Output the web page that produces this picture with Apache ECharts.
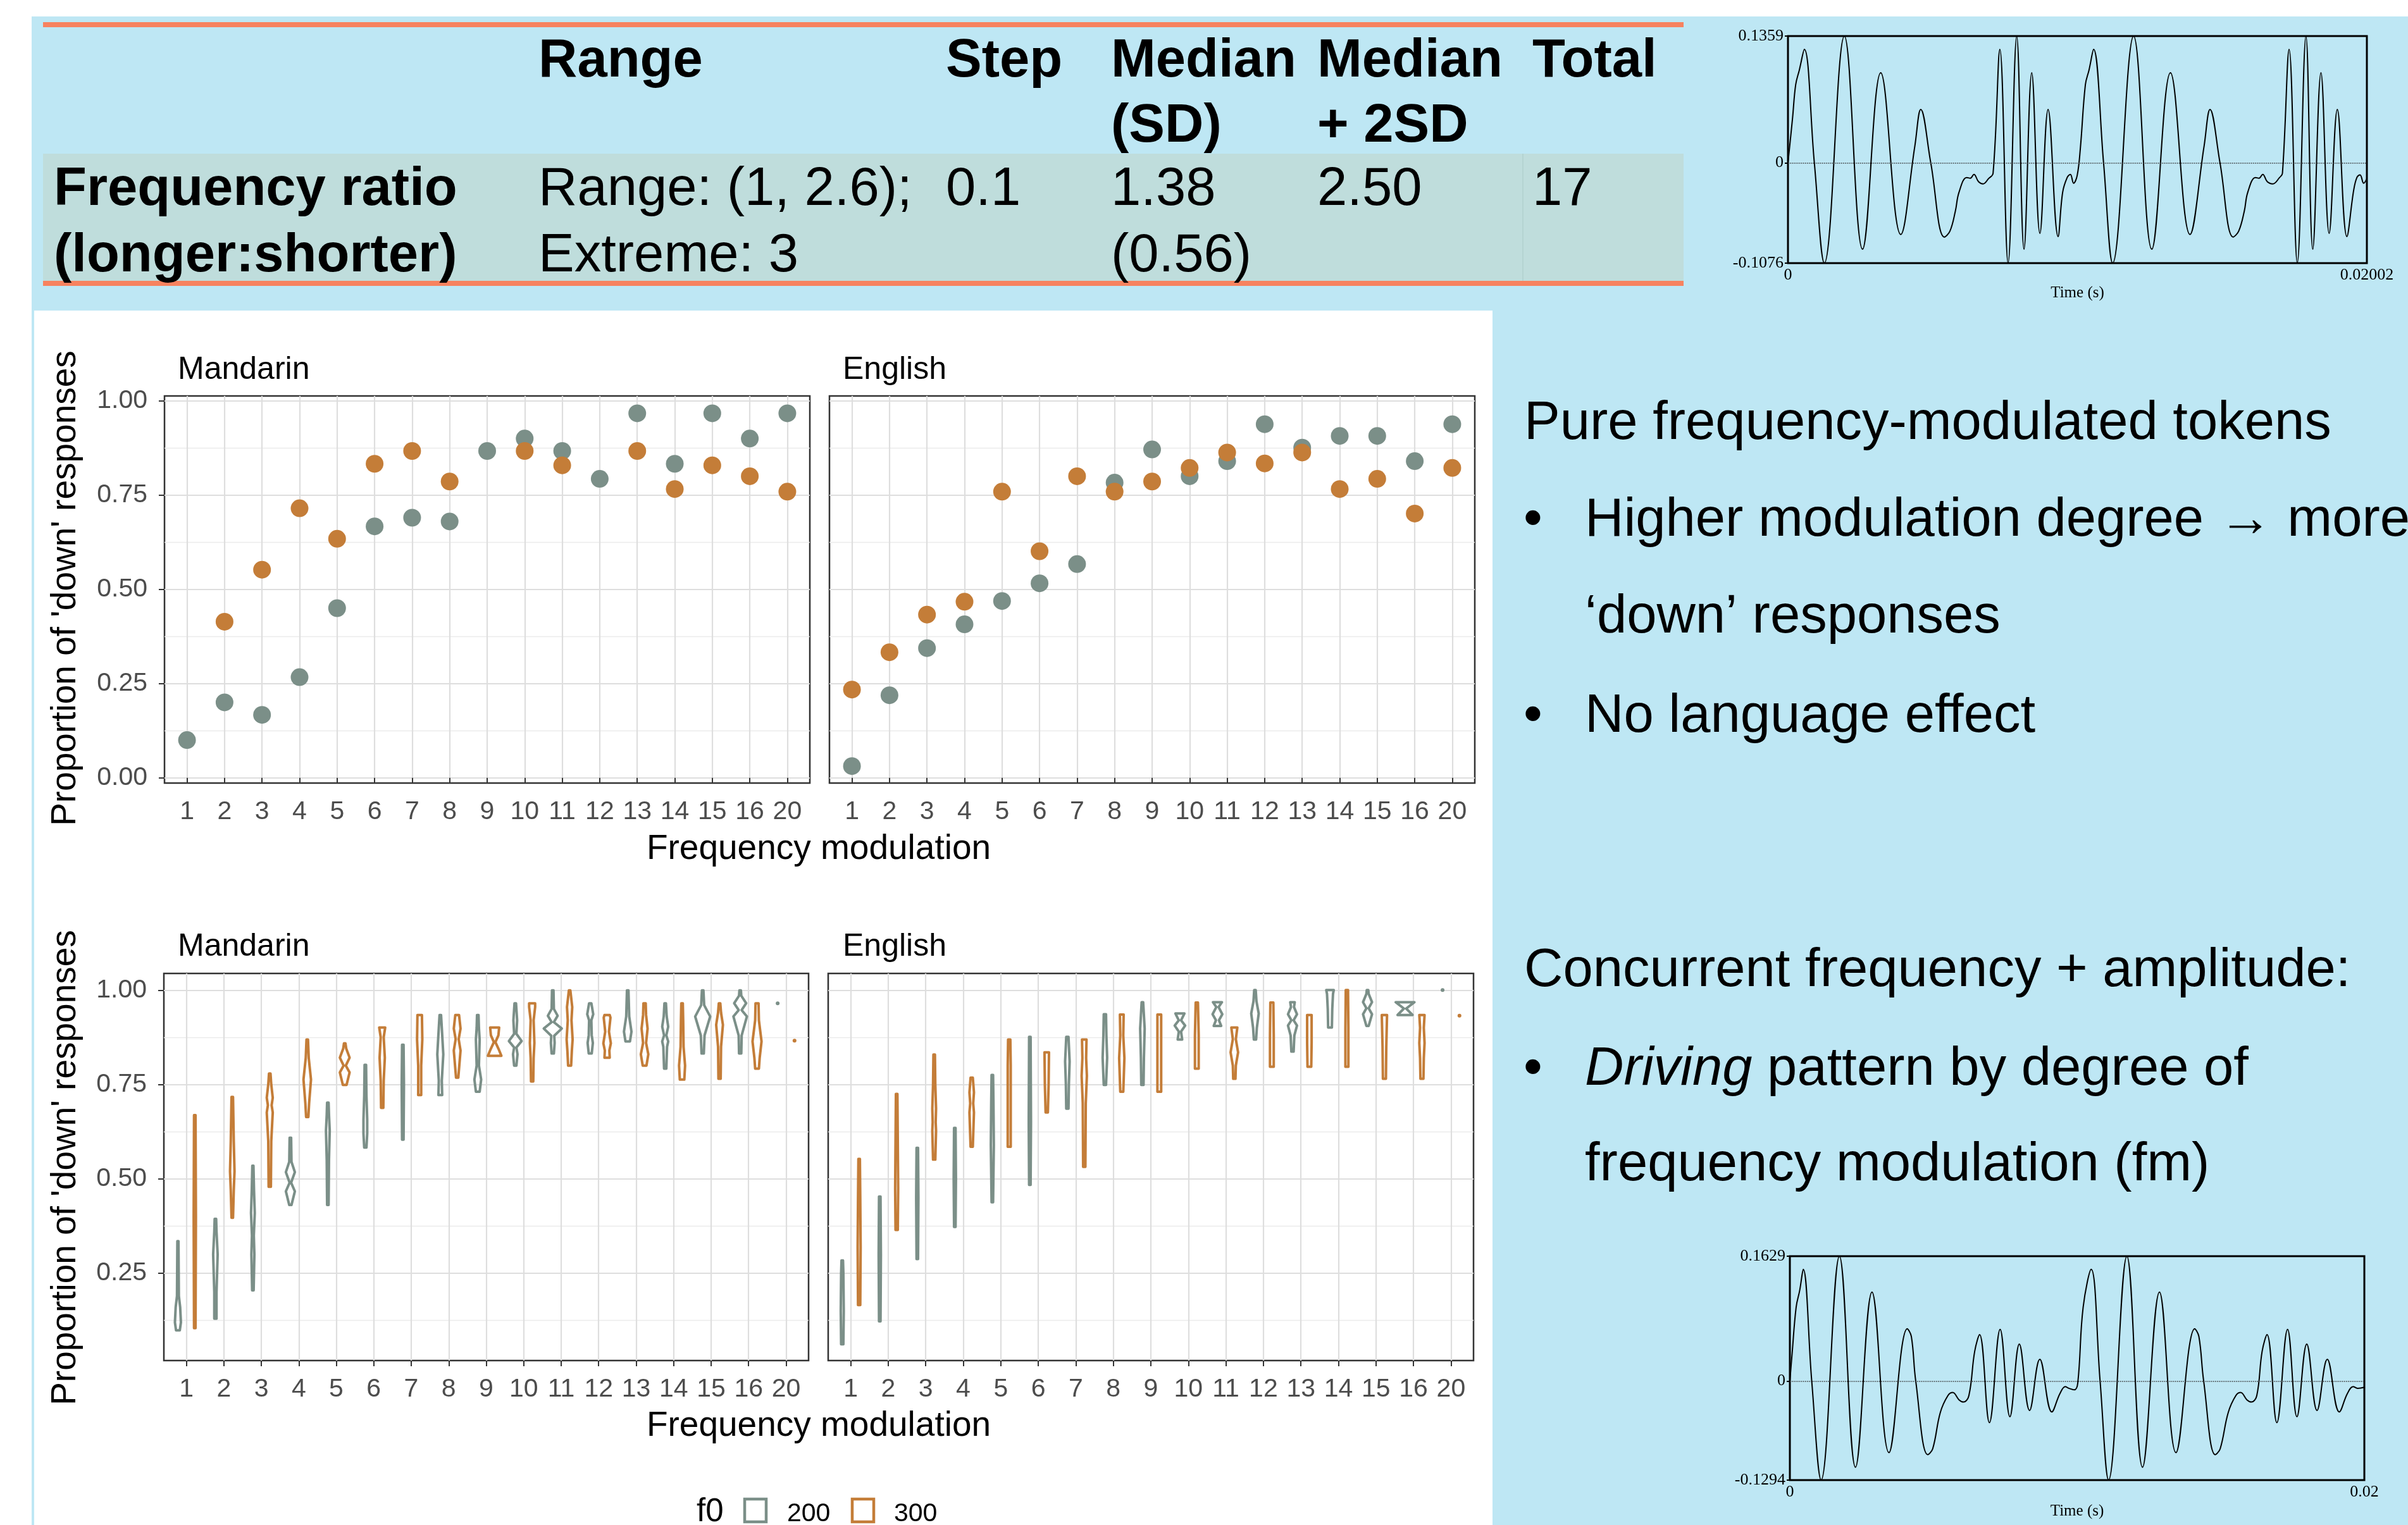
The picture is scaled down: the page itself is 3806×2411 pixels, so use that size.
<!DOCTYPE html>
<html>
<head>
<meta charset="utf-8">
<title>Frequency modulation responses</title>
<script src="https://cdn.jsdelivr.net/npm/echarts@6.0.0/dist/echarts.min.js"></script>
<style>
  html, body { margin: 0; padding: 0; background: #fff; }
  #main { width: 3806px; height: 2411px; }
</style>
</head>
<body>
<div id="main"></div>
<script>
// frequency modulation levels (x categories)
var fmLabels = ['1', '2', '3', '4', '5', '6', '7', '8', '9', '10', '11', '12', '13', '14', '15', '16', '20'];
var fmPos = fmLabels.map(function (d, i) { return i + 1; });

// pure FM tokens: proportion of 'down' responses, f0 = 200 / 300
var manPoint200 = [0.10, 0.20, 0.167, 0.267, 0.45, 0.667, 0.69, 0.68, 0.867, 0.90, 0.867, 0.793, 0.967, 0.833, 0.967, 0.90, 0.967];
var manPoint300 = [null, 0.414, 0.552, 0.715, 0.634, 0.833, 0.867, 0.786, null, 0.867, 0.829, null, 0.867, 0.766, 0.829, 0.80, 0.759];
var engPoint200 = [0.031, 0.219, 0.344, 0.407, 0.469, 0.516, 0.567, 0.783, 0.871, 0.80, 0.84, 0.938, 0.876, 0.907, 0.907, 0.84, 0.938];
var engPoint300 = [0.234, 0.333, 0.433, 0.467, 0.759, 0.601, 0.80, 0.759, 0.786, 0.822, 0.863, 0.834, 0.863, 0.766, 0.793, 0.701, 0.822];

// FM + AM tokens: violin profiles, [proportion, half width] from bottom to top
var manViolin200 = [
  [[0.099, 0.05], [0.12, 0.08], [0.16, 0.06], [0.19, 0.025], [0.26, 0.02], [0.335, 0.015]],
  [[0.13, 0.03], [0.2, 0.03], [0.3, 0.06], [0.36, 0.03], [0.394, 0.02]],
  [[0.205, 0.02], [0.3, 0.04], [0.35, 0.025], [0.41, 0.05], [0.47, 0.03], [0.535, 0.015]],
  [[0.431, 0.03], [0.467, 0.12], [0.49, 0.02], [0.518, 0.12], [0.545, 0.03], [0.609, 0.02]],
  [[0.431, 0.02], [0.55, 0.03], [0.628, 0.05], [0.67, 0.03], [0.702, 0.02]],
  [[0.583, 0.03], [0.62, 0.05], [0.657, 0.05], [0.72, 0.03], [0.802, 0.02]],
  [[0.604, 0.02], [0.75, 0.03], [0.855, 0.02]],
  [[0.722, 0.05], [0.76, 0.04], [0.83, 0.08], [0.9, 0.04], [0.934, 0.02]],
  [[0.731, 0.05], [0.763, 0.09], [0.8, 0.03], [0.869, 0.05], [0.9, 0.03], [0.934, 0.02]],
  [[0.8, 0.03], [0.83, 0.06], [0.848, 0.03], [0.865, 0.17], [0.884, 0.03], [0.92, 0.05], [0.965, 0.02]],
  [[0.832, 0.03], [0.86, 0.05], [0.879, 0.04], [0.898, 0.24], [0.915, 0.03], [0.932, 0.13], [0.95, 0.03], [0.999, 0.02]],
  [[0.832, 0.04], [0.86, 0.07], [0.88, 0.04], [0.92, 0.03], [0.936, 0.08], [0.965, 0.03]],
  [[0.864, 0.06], [0.89, 0.1], [0.93, 0.04], [0.999, 0.02]],
  [[0.792, 0.03], [0.85, 0.05], [0.864, 0.08], [0.88, 0.03], [0.903, 0.08], [0.93, 0.04], [0.965, 0.02]],
  [[0.832, 0.03], [0.88, 0.05], [0.93, 0.2], [0.96, 0.04], [0.999, 0.02]],
  [[0.832, 0.03], [0.88, 0.04], [0.93, 0.18], [0.947, 0.04], [0.965, 0.16], [0.985, 0.03], [0.999, 0.02]],
  [[0.965, 0]]
];
var manViolin300 = [
  [[0.105, 0.02], [0.4, 0.03], [0.669, 0.02]],
  [[0.397, 0.02], [0.47, 0.04], [0.52, 0.06], [0.6, 0.04], [0.717, 0.02]],
  [[0.479, 0.03], [0.6, 0.04], [0.676, 0.08], [0.695, 0.05], [0.715, 0.08], [0.75, 0.04], [0.779, 0.02]],
  [[0.664, 0.03], [0.7, 0.05], [0.763, 0.1], [0.82, 0.04], [0.869, 0.02]],
  [[0.749, 0.05], [0.782, 0.13], [0.8, 0.03], [0.821, 0.13], [0.845, 0.04], [0.859, 0.02]],
  [[0.688, 0.03], [0.76, 0.04], [0.821, 0.07], [0.875, 0.04], [0.901, 0.08]],
  [[0.722, 0.04], [0.8, 0.04], [0.869, 0.07], [0.934, 0.06]],
  [[0.768, 0.03], [0.84, 0.09], [0.87, 0.04], [0.898, 0.09], [0.934, 0.05]],
  [[0.826, 0.18], [0.845, 0.1], [0.862, 0.02], [0.88, 0.1], [0.901, 0.12]],
  [[0.758, 0.03], [0.82, 0.04], [0.86, 0.06], [0.92, 0.04], [0.955, 0.08], [0.965, 0.08]],
  [[0.8, 0.04], [0.84, 0.06], [0.869, 0.08], [0.92, 0.05], [0.955, 0.07], [0.999, 0.02]],
  [[0.821, 0.07], [0.84, 0.06], [0.859, 0.1], [0.89, 0.05], [0.927, 0.09], [0.934, 0.07]],
  [[0.8, 0.05], [0.83, 0.1], [0.86, 0.04], [0.898, 0.08], [0.934, 0.04], [0.965, 0.03]],
  [[0.763, 0.06], [0.8, 0.08], [0.85, 0.04], [0.92, 0.03], [0.965, 0.02]],
  [[0.765, 0.03], [0.85, 0.04], [0.908, 0.09], [0.94, 0.04], [0.965, 0.02]],
  [[0.792, 0.05], [0.82, 0.07], [0.864, 0.12], [0.92, 0.05], [0.965, 0.04]],
  [[0.866, 0]]
];
var engViolin200 = [
  [[0.062, 0.03], [0.15, 0.04], [0.25, 0.03], [0.284, 0.02]],
  [[0.123, 0.02], [0.3, 0.03], [0.453, 0.02]],
  [[0.288, 0.02], [0.45, 0.03], [0.582, 0.02]],
  [[0.373, 0.02], [0.5, 0.03], [0.635, 0.02]],
  [[0.438, 0.02], [0.59, 0.04], [0.7, 0.03], [0.775, 0.02]],
  [[0.484, 0.02], [0.65, 0.03], [0.876, 0.02]],
  [[0.686, 0.03], [0.75, 0.04], [0.811, 0.06], [0.876, 0.03]],
  [[0.749, 0.03], [0.821, 0.06], [0.88, 0.04], [0.936, 0.03]],
  [[0.749, 0.03], [0.82, 0.04], [0.898, 0.06], [0.968, 0.02]],
  [[0.869, 0.06], [0.89, 0.03], [0.906, 0.14], [0.92, 0.03], [0.938, 0.12]],
  [[0.905, 0.1], [0.92, 0.04], [0.936, 0.13], [0.955, 0.03], [0.968, 0.12]],
  [[0.869, 0.03], [0.9, 0.05], [0.938, 0.1], [0.97, 0.04], [1.0, 0.02]],
  [[0.837, 0.03], [0.88, 0.05], [0.906, 0.12], [0.92, 0.03], [0.936, 0.12], [0.955, 0.04], [0.968, 0.06]],
  [[0.901, 0.05], [0.95, 0.06], [0.99, 0.08], [1.0, 0.1]],
  [[0.905, 0.03], [0.936, 0.12], [0.952, 0.03], [0.968, 0.12], [0.99, 0.03], [1.0, 0.02]],
  [[0.934, 0.2], [0.951, 0.03], [0.968, 0.25]],
  [[1.0, 0]]
];
var engViolin300 = [
  [[0.166, 0.03], [0.32, 0.04], [0.45, 0.03], [0.553, 0.02]],
  [[0.365, 0.03], [0.474, 0.04], [0.6, 0.03], [0.725, 0.02]],
  [[0.551, 0.03], [0.628, 0.05], [0.65, 0.04], [0.686, 0.05], [0.75, 0.03], [0.829, 0.02]],
  [[0.585, 0.03], [0.676, 0.06], [0.7, 0.04], [0.729, 0.06], [0.768, 0.03]],
  [[0.585, 0.04], [0.7, 0.04], [0.8, 0.04], [0.869, 0.03]],
  [[0.676, 0.03], [0.75, 0.05], [0.835, 0.06]],
  [[0.532, 0.03], [0.7, 0.04], [0.773, 0.07], [0.82, 0.05], [0.869, 0.06]],
  [[0.731, 0.04], [0.82, 0.07], [0.88, 0.04], [0.935, 0.05]],
  [[0.731, 0.05], [0.82, 0.05], [0.9, 0.05], [0.935, 0.05]],
  [[0.792, 0.05], [0.88, 0.05], [0.967, 0.03]],
  [[0.765, 0.03], [0.8, 0.04], [0.835, 0.1], [0.87, 0.04], [0.901, 0.08]],
  [[0.797, 0.05], [0.88, 0.05], [0.967, 0.04]],
  [[0.797, 0.05], [0.86, 0.06], [0.934, 0.06]],
  [[0.797, 0.04], [0.9, 0.04], [1.0, 0.03]],
  [[0.765, 0.04], [0.85, 0.05], [0.934, 0.07]],
  [[0.765, 0.04], [0.82, 0.05], [0.86, 0.07], [0.9, 0.05], [0.934, 0.07]],
  [[0.932, 0]]
];

// y ticks
var propMajor = [0, 0.25, 0.5, 0.75, 1];
var propMinor = [0.125, 0.375, 0.625, 0.875];

// waveforms (time in ms, amplitude) read at turning points
var waveTopMs = [0, 0.157, 0.267, 0.393, 0.566, 0.912, 1.258, 1.95, 2.579, 3.208, 3.9, 4.388, 4.592, 4.938, 5.41, 5.599, 5.788, 5.914, 6.181, 6.307, 6.432, 6.59, 6.747, 6.936, 7.093, 7.329, 7.612, 7.911, 8.163, 8.43, 8.713, 8.996, 9.342, 9.499, 9.656, 9.766, 9.877, 10.002, 10.112, 10.285, 10.411, 10.569, 10.914, 11.229, 11.953, 12.582, 13.226, 13.903, 14.391, 14.595, 14.94, 15.397, 15.585, 15.78, 15.9, 16.167, 16.29, 16.419, 16.576, 16.765, 17.001, 17.1, 17.331, 17.614, 17.913, 18.149, 18.432, 18.715, 18.998, 19.329, 19.564, 19.675, 19.784, 19.91, 20.02];
var waveTopAmp = [0, 0.0475, 0.0837, 0.0995, 0.1216, 0, -0.1076, 0.1359, -0.0927, 0.0965, -0.0769, 0.018, 0.0572, 0, -0.0796, -0.0735, -0.052, -0.0317, -0.0158, -0.0165, -0.0124, -0.0203, -0.0226, -0.017, -0.0113, 0.1216, -0.1076, 0.1359, -0.0927, 0.0965, -0.0757, 0.0572, -0.0791, -0.0317, -0.0158, -0.0124, -0.0219, -0.0136, 0.0158, 0.0837, 0.0995, 0.1216, 0, -0.1076, 0.1359, -0.0927, 0.0965, -0.0769, 0.018, 0.0572, 0, -0.0796, -0.0735, -0.052, -0.0317, -0.0158, -0.0165, -0.0124, -0.0203, -0.0226, -0.0158, -0.0113, 0.1216, -0.1076, 0.1359, -0.0927, 0.0965, -0.0757, 0.0572, -0.0791, -0.0294, -0.0158, -0.0129, -0.0219, -0.017];
var waveTopY = [-0.1076, 0, 0.1359];
var waveTopX = [0, 20.02];
var waveTopXText = ['0', '0.02002'];

var waveBotMs = [0, 0.078, 0.218, 0.342, 0.466, 0.761, 1.088, 1.725, 2.284, 2.859, 3.45, 4.087, 4.23, 4.382, 4.802, 4.973, 5.237, 5.501, 5.672, 5.89, 6.045, 6.232, 6.434, 6.605, 6.947, 7.32, 7.661, 7.988, 8.345, 8.702, 9.122, 9.402, 9.588, 9.713, 9.899, 10.023, 10.21, 10.49, 10.8, 11.096, 11.733, 12.277, 12.867, 13.442, 14.095, 14.24, 14.406, 14.81, 14.981, 15.261, 15.525, 15.695, 15.913, 16.068, 16.255, 16.441, 16.612, 16.954, 17.327, 17.653, 17.995, 18.353, 18.71, 19.13, 19.409, 19.611, 19.767, 20.0];
var waveBotAmp = [0, 0.0357, 0.0962, 0.1182, 0.1457, 0, -0.1294, 0.1629, -0.1127, 0.116, -0.0935, 0.0682, 0.058, 0, -0.0962, -0.0885, -0.0412, -0.0192, -0.0151, -0.0247, -0.0275, -0.0192, 0.0385, 0.0605, -0.0544, 0.0674, -0.0467, 0.0481, -0.0385, 0.0283, -0.0404, -0.0165, -0.0074, -0.0096, -0.0115, -0.0027, 0.0962, 0.1457, 0, -0.1294, 0.1629, -0.1127, 0.116, -0.0935, 0.0682, 0.058, 0, -0.0962, -0.0885, -0.0412, -0.0192, -0.0151, -0.0247, -0.0275, -0.0192, 0.0385, 0.0605, -0.0544, 0.0674, -0.0467, 0.0481, -0.0385, 0.0283, -0.0404, -0.0165, -0.0074, -0.0096, -0.0082];
var waveBotY = [-0.1294, 0, 0.1629];
var waveBotX = [0, 20];
var waveBotXText = ['0', '0.02'];

var SANS = "'Liberation Sans', Arial, Helvetica, sans-serif";
var SERIF = "'Liberation Serif', 'Times New Roman', serif";
var GREY = '#7B8F88';
var ORANGE = '#C47D38';

var chart = echarts.init(document.getElementById('main'), null, { renderer: 'canvas' });

// x axis of the facet panels
function fmAxis(gi, margin) {
    return {
        type: 'value', gridIndex: gi, min: 0.4, max: 17.6,
        axisLine: { show: false },
        axisTick: { show: true, length: 9, customValues: fmPos, lineStyle: { color: '#333', width: 2 } },
        axisLabel: {
            customValues: fmPos, margin: margin, fontSize: 41, color: '#4D4D4D', fontFamily: SANS,
            formatter: function (v) { return fmLabels[Math.round(v) - 1]; }
        },
        splitLine: { show: true, lineStyle: { color: '#DEDEDE', width: 2.2 } }
    };
}
function propAxis(gi, min, max, labels) {
    return {
        type: 'value', gridIndex: gi, min: min, max: max, position: 'left',
        axisLine: { show: false },
        axisTick: { show: labels, length: 9, customValues: propMajor, lineStyle: { color: '#333', width: 2 } },
        axisLabel: {
            show: labels, customValues: propMajor, margin: 27, fontSize: 41, color: '#4D4D4D', fontFamily: SANS,
            formatter: function (v) { return v.toFixed(2); }
        },
        splitLine: { show: true, lineStyle: { color: '#DEDEDE', width: 2.2 } }
    };
}
function minorAxis(gi, min, max) {
    return {
        type: 'value', gridIndex: gi, min: min, max: max, position: 'left',
        axisLine: { show: false },
        axisTick: { show: false, customValues: propMinor },
        axisLabel: { show: false, customValues: propMinor },
        splitLine: { show: true, lineStyle: { color: '#EBEBEB', width: 1.3 } }
    };
}
function waveXAxis(gi, ticks, texts, gap) {
    return {
        type: 'value', gridIndex: gi, min: ticks[0], max: ticks[1],
        name: 'Time (s)', nameLocation: 'middle', nameGap: gap,
        nameTextStyle: { fontFamily: SERIF, fontSize: 25, color: '#000' },
        axisLine: { show: false },
        axisTick: { show: true, length: 5, customValues: ticks, lineStyle: { color: '#000', width: 2 } },
        axisLabel: {
            customValues: ticks, margin: 6, fontFamily: SERIF, fontSize: 26, color: '#000',
            showMinLabel: true, showMaxLabel: true,
            formatter: function (v) { return texts[ticks.indexOf(v)]; }
        },
        splitLine: { show: false }
    };
}
function waveYAxis(gi, ticks) {
    return {
        type: 'value', gridIndex: gi, min: ticks[0], max: ticks[2],
        axisLine: { show: false },
        axisTick: { show: true, length: 5, customValues: ticks, lineStyle: { color: '#000', width: 2 } },
        axisLabel: {
            customValues: ticks, margin: 7, fontFamily: SERIF, fontSize: 26, color: '#000',
            showMinLabel: true, showMaxLabel: true,
            formatter: function (v) { return v === 0 ? '0' : String(v); }
        },
        splitLine: { show: false }
    };
}

function pointSeries(name, values, color, xi, yi) {
    var data = [];
    values.forEach(function (v, i) { if (v != null) data.push([i + 1, v]); });
    return {
        type: 'scatter', name: name, xAxisIndex: xi, yAxisIndex: yi,
        symbol: 'circle', symbolSize: 28, z: 3,
        itemStyle: { color: color, opacity: 1 },
        data: data
    };
}

// outline-only violins drawn from their profiles
function violinSeries(name, profiles, offset, color, xi, yi) {
    return {
        type: 'custom', name: name, xAxisIndex: xi, yAxisIndex: yi, z: 3,
        data: profiles.map(function (p, i) { return [i + 1 + offset, p[0][0], p[p.length - 1][0]]; }),
        encode: { x: 0, y: [1, 2] },
        renderItem: function (params, api) {
            var prof = profiles[params.dataIndex];
            var x = api.value(0);
            if (prof.length === 1) {
                var c = api.coord([x, prof[0][0]]);
                return { type: 'circle', shape: { cx: c[0], cy: c[1], r: 3 }, style: { fill: color } };
            }
            var left = prof.map(function (p) { return api.coord([x - p[1], p[0]]); });
            var right = prof.slice().reverse().map(function (p) { return api.coord([x + p[1], p[0]]); });
            return {
                type: 'polygon',
                shape: { points: left.concat(right) },
                style: { fill: 'none', stroke: color, lineWidth: 4, lineJoin: 'round' }
            };
        }
    };
}

function waveSeries(ms, amp, xi, yi) {
    return {
        type: 'line', xAxisIndex: xi, yAxisIndex: yi,
        data: ms.map(function (t, i) { return [t, amp[i]]; }),
        showSymbol: false, smooth: 0.4,
        lineStyle: { color: '#000', width: 2 },
        markLine: {
            silent: true, symbol: 'none', label: { show: false },
            lineStyle: { color: '#333', type: 'dotted', width: 1.5 },
            data: [{ yAxis: 0 }]
        }
    };
}

// slide texts, positioned by baseline
function txt(x, base, s, size, o) {
    o = o || {};
    var st = {
        text: s, fill: o.color || '#000', fontSize: size,
        fontFamily: o.family || SANS,
        fontWeight: o.bold ? 'bold' : 'normal',
        fontStyle: o.italic ? 'italic' : 'normal',
        align: o.align || 'left', textAlign: o.align || 'left',
        verticalAlign: 'middle', textVerticalAlign: 'middle'
    };
    if (o.rich) st.rich = o.rich;
    return { type: 'text', x: x, y: o.mid ? base : base - 0.29 * size, rotation: o.rotation || 0, z: 100, style: st };
}
function box(x, y, w, h, fill, z) {
    return { type: 'rect', shape: { x: x, y: y, width: w, height: h }, style: { fill: fill }, z: z, silent: true };
}

var elements = [
    box(50, 26, 3756, 2385, '#BEE7F4', -100),
    box(54, 491, 2305, 1920, '#FFFFFF', -99),
    box(68, 243, 2593, 201, '#BFDDDC', -99),
    box(2406, 243, 2, 201, '#B4D4D1', -98),
    box(68, 35, 2593, 8, '#F7825F', -98),
    box(68, 444, 2593, 8, '#F7825F', -98),

    // table
    txt(851, 122, 'Range', 85, { bold: true }),
    txt(1495, 122, 'Step', 85, { bold: true }),
    txt(1756, 122, 'Median', 85, { bold: true }),
    txt(1756, 225, '(SD)', 85, { bold: true }),
    txt(2082, 122, 'Median', 85, { bold: true }),
    txt(2082, 225, '+ 2SD', 85, { bold: true }),
    txt(2422, 122, 'Total', 85, { bold: true }),
    txt(85, 325, 'Frequency ratio', 85, { bold: true }),
    txt(85, 430, '(longer:shorter)', 85, { bold: true }),
    txt(851, 325, 'Range: (1, 2.6);', 85),
    txt(851, 430, 'Extreme: 3', 85),
    txt(1495, 325, '0.1', 85),
    txt(1756, 325, '1.38', 85),
    txt(1756, 430, '(0.56)', 85),
    txt(2082, 325, '2.50', 85),
    txt(2422, 325, '17', 85),

    // notes on the right
    txt(2409, 695, 'Pure frequency-modulated tokens', 85),
    txt(2408, 848, '•', 85),
    txt(2505, 848, 'Higher modulation degree \u2192 more', 85),
    txt(2505, 1001, '\u2018down\u2019 responses', 85),
    txt(2408, 1158, '•', 85),
    txt(2505, 1158, 'No language effect', 85),
    txt(2409, 1560, 'Concurrent frequency + amplitude:', 85),
    txt(2408, 1716, '•', 85),
    txt(2505, 1716, '{i|Driving} pattern by degree of', 85, { rich: { i: { fontStyle: 'italic', fontSize: 85, fontFamily: SANS } } }),
    txt(2505, 1867, 'frequency modulation (fm)', 85),

    // facet strips and axis titles
    txt(281, 600, 'Mandarin', 50),
    txt(1332, 600, 'English', 50),
    txt(281, 1512, 'Mandarin', 50),
    txt(1332, 1512, 'English', 50),
    txt(104, 930, "Proportion of 'down' responses", 55, { align: 'center', mid: true, rotation: Math.PI / 2 }),
    txt(104, 1846, "Proportion of 'down' responses", 55, { align: 'center', mid: true, rotation: Math.PI / 2 }),
    txt(1294, 1359, 'Frequency modulation', 55, { align: 'center' }),
    txt(1294, 2271, 'Frequency modulation', 55, { align: 'center' }),

    // legend of the violins
    txt(1101, 2406, 'f0', 51),
    { type: 'rect', shape: { x: 1177, y: 2370, width: 34, height: 36 }, style: { fill: '#fff', stroke: GREY, lineWidth: 4.5 }, z: 100 },
    txt(1244, 2406, '200', 41),
    { type: 'rect', shape: { x: 1347, y: 2370, width: 34, height: 36 }, style: { fill: '#fff', stroke: ORANGE, lineWidth: 4.5 }, z: 100 },
    txt(1413, 2406, '300', 41)
];

var panelGrid = { show: true, borderColor: '#333', borderWidth: 2.5, backgroundColor: 'transparent' };
function grid(l, t, w, h, extra) {
    return Object.assign({ left: l, top: t, width: w, height: h, containLabel: false }, extra);
}

var option = {
    animation: false,
    backgroundColor: '#FFFFFF',
    textStyle: { fontFamily: SANS },
    graphic: { elements: elements },
    grid: [
        grid(260, 626, 1020, 612, panelGrid),
        grid(1311, 626, 1020, 612, panelGrid),
        grid(259, 1539, 1019, 612, panelGrid),
        grid(1309, 1539, 1020, 612, panelGrid),
        grid(2826, 57, 915, 359, { show: true, borderColor: '#000', borderWidth: 3 }),
        grid(2829, 1986, 908, 354, { show: true, borderColor: '#000', borderWidth: 3 })
    ],
    xAxis: [
        fmAxis(0, 25), fmAxis(1, 25), fmAxis(2, 25), fmAxis(3, 25),
        waveXAxis(4, waveTopX, waveTopXText, 35),
        waveXAxis(5, waveBotX, waveBotXText, 37)
    ],
    yAxis: [
        propAxis(0, -0.014, 1.013, true), minorAxis(0, -0.014, 1.013),
        propAxis(1, -0.014, 1.013, false), minorAxis(1, -0.014, 1.013),
        propAxis(2, 0.019, 1.044, true), minorAxis(2, 0.019, 1.044),
        propAxis(3, 0.019, 1.044, false), minorAxis(3, 0.019, 1.044),
        waveYAxis(4, waveTopY),
        waveYAxis(5, waveBotY)
    ],
    series: [
        pointSeries('200', manPoint200, GREY, 0, 0),
        pointSeries('300', manPoint300, ORANGE, 0, 0),
        pointSeries('200', engPoint200, GREY, 1, 2),
        pointSeries('300', engPoint300, ORANGE, 1, 2),
        violinSeries('200', manViolin200, -0.225, GREY, 2, 4),
        violinSeries('300', manViolin300, 0.225, ORANGE, 2, 4),
        violinSeries('200', engViolin200, -0.225, GREY, 3, 6),
        violinSeries('300', engViolin300, 0.225, ORANGE, 3, 6),
        waveSeries(waveTopMs, waveTopAmp, 4, 8),
        waveSeries(waveBotMs, waveBotAmp, 5, 9)
    ]
};
chart.setOption(option);
</script>
</body>
</html>
